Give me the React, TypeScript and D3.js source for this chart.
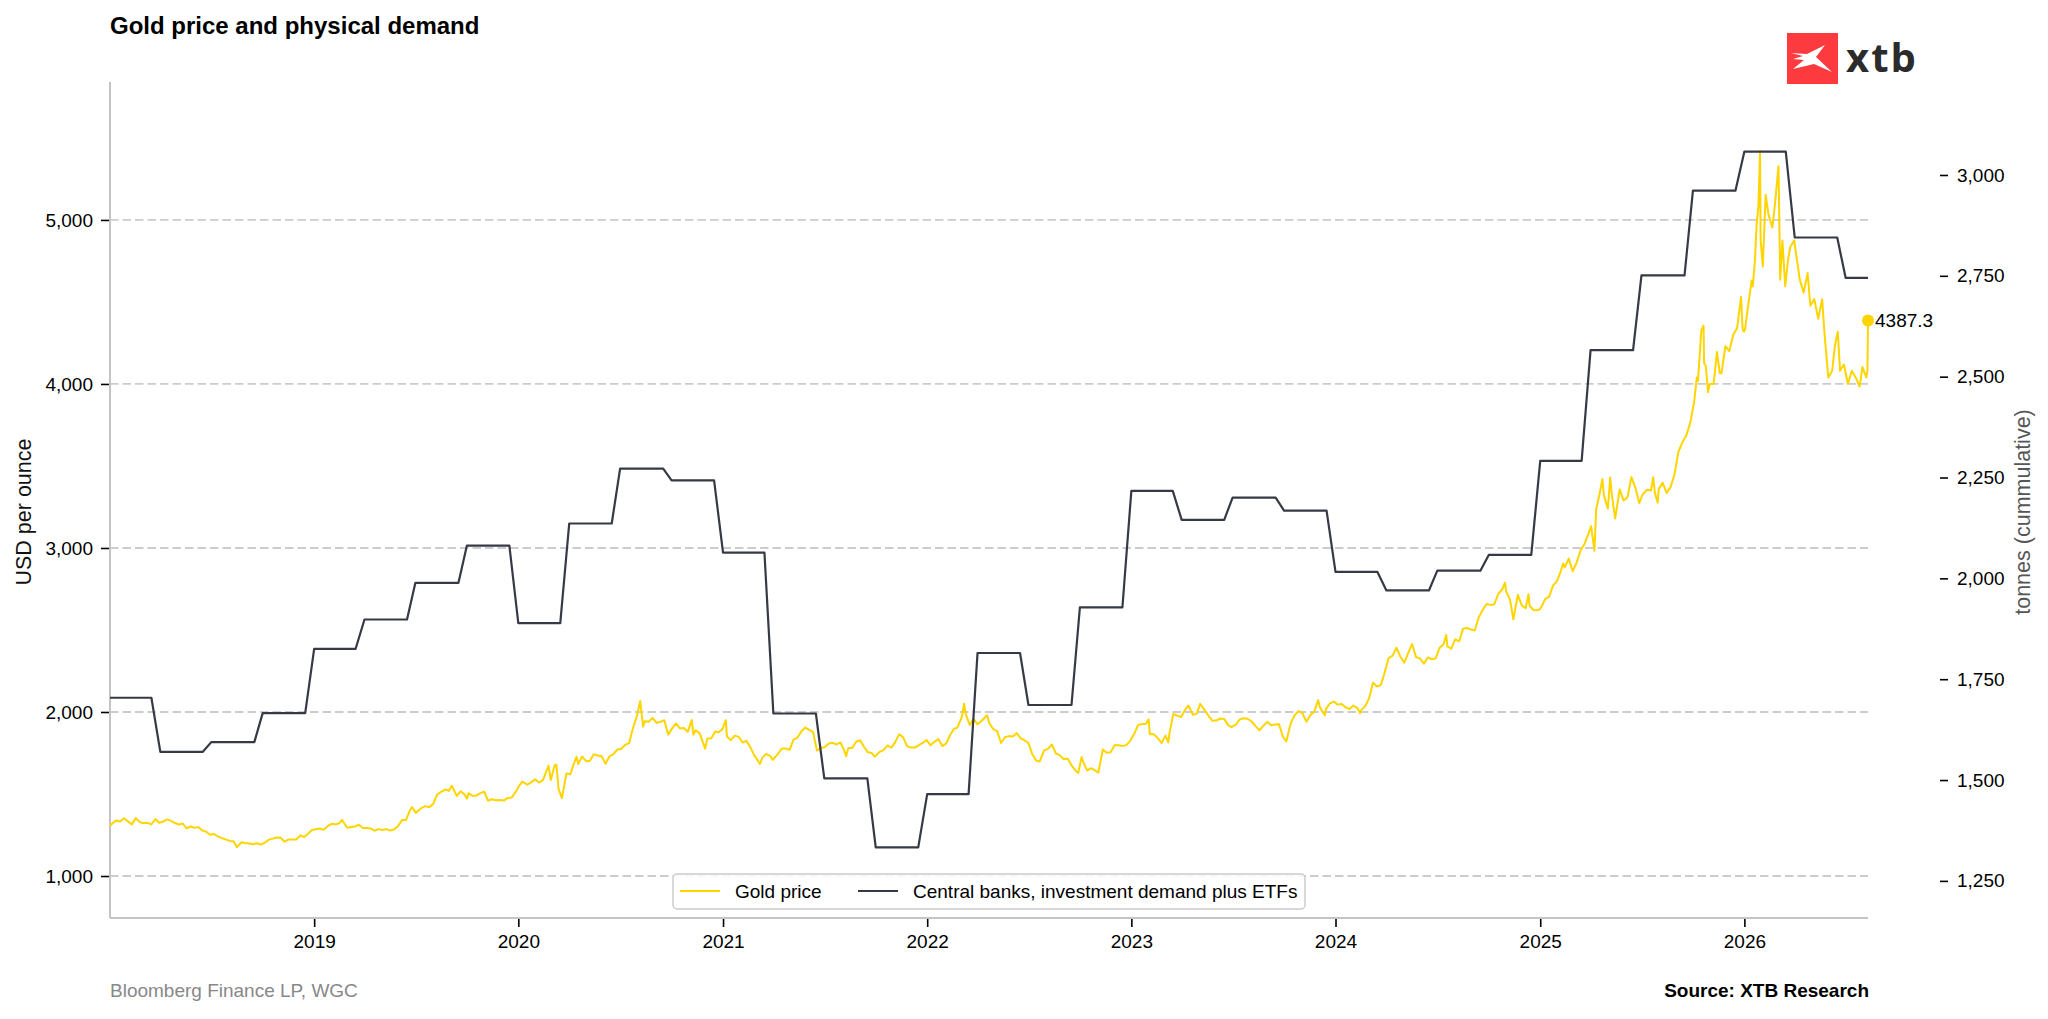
import { useEffect, useRef } from 'react';
import * as d3 from 'd3';

// gold price, USD per ounce, roughly weekly readings
const gold2018: [string, number][] = [
  ['2018-01-01', 1305], ['2018-01-05', 1320], ['2018-01-12', 1338], ['2018-01-19', 1332], ['2018-01-26', 1352],
  ['2018-02-02', 1333], ['2018-02-09', 1315], ['2018-02-16', 1353], ['2018-02-23', 1329], ['2018-03-02', 1322],
  ['2018-03-09', 1324], ['2018-03-16', 1314], ['2018-03-23', 1347], ['2018-03-30', 1325], ['2018-04-06', 1332],
  ['2018-04-13', 1345], ['2018-04-20', 1336], ['2018-04-27', 1323], ['2018-05-04', 1314], ['2018-05-11', 1320],
  ['2018-05-18', 1291], ['2018-05-25', 1302], ['2018-06-01', 1294], ['2018-06-08', 1298], ['2018-06-15', 1278],
  ['2018-06-22', 1270], ['2018-06-29', 1252], ['2018-07-06', 1256], ['2018-07-13', 1241], ['2018-07-20', 1231],
  ['2018-07-27', 1223], ['2018-08-03', 1214], ['2018-08-10', 1212], ['2018-08-16', 1176], ['2018-08-24', 1206],
  ['2018-08-31', 1201], ['2018-09-07', 1198], ['2018-09-14', 1194], ['2018-09-21', 1200], ['2018-09-28', 1192],
  ['2018-10-05', 1203], ['2018-10-12', 1222], ['2018-10-19', 1228], ['2018-10-26', 1235], ['2018-11-02', 1233],
  ['2018-11-09', 1209], ['2018-11-16', 1222], ['2018-11-23', 1223], ['2018-11-30', 1222], ['2018-12-07', 1248],
  ['2018-12-14', 1238], ['2018-12-21', 1258], ['2018-12-28', 1280],
];
const gold2019: [string, number][] = [
  ['2019-01-04', 1285], ['2019-01-11', 1289], ['2019-01-18', 1282], ['2019-01-25', 1304], ['2019-02-01', 1318],
  ['2019-02-08', 1315], ['2019-02-15', 1322], ['2019-02-20', 1342], ['2019-03-01', 1294], ['2019-03-08', 1299],
  ['2019-03-15', 1302], ['2019-03-22', 1313], ['2019-03-29', 1293], ['2019-04-05', 1292], ['2019-04-12', 1290],
  ['2019-04-19', 1276], ['2019-04-26', 1286], ['2019-05-03', 1280], ['2019-05-10', 1286], ['2019-05-17', 1277],
  ['2019-05-24', 1284], ['2019-05-31', 1305], ['2019-06-07', 1341], ['2019-06-14', 1341], ['2019-06-21', 1399],
  ['2019-06-25', 1420], ['2019-07-02', 1385], ['2019-07-12', 1415], ['2019-07-19', 1426], ['2019-07-26', 1419],
  ['2019-08-02', 1441], ['2019-08-09', 1497], ['2019-08-16', 1513], ['2019-08-23', 1527], ['2019-08-30', 1520],
  ['2019-09-04', 1550], ['2019-09-13', 1488], ['2019-09-20', 1517], ['2019-09-27', 1497], ['2019-10-01', 1472],
  ['2019-10-04', 1505], ['2019-10-11', 1489], ['2019-10-18', 1490], ['2019-10-25', 1505], ['2019-11-01', 1514],
  ['2019-11-08', 1459], ['2019-11-15', 1468], ['2019-11-22', 1462], ['2019-11-29', 1463], ['2019-12-06', 1460],
  ['2019-12-13', 1476], ['2019-12-20', 1478], ['2019-12-27', 1511],
];
const gold2020: [string, number][] = [
  ['2020-01-03', 1552], ['2020-01-08', 1575], ['2020-01-17', 1557], ['2020-01-24', 1571], ['2020-01-31', 1589],
  ['2020-02-07', 1570], ['2020-02-14', 1584], ['2020-02-24', 1672], ['2020-02-28', 1585], ['2020-03-06', 1674],
  ['2020-03-09', 1680], ['2020-03-13', 1530], ['2020-03-19', 1475], ['2020-03-27', 1625], ['2020-04-03', 1620],
  ['2020-04-09', 1683], ['2020-04-14', 1727], ['2020-04-17', 1683], ['2020-04-24', 1729], ['2020-05-01', 1700],
  ['2020-05-08', 1703], ['2020-05-15', 1743], ['2020-05-22', 1735], ['2020-05-29', 1730], ['2020-06-05', 1685],
  ['2020-06-12', 1730], ['2020-06-19', 1743], ['2020-06-26', 1771], ['2020-07-03', 1775], ['2020-07-10', 1799],
  ['2020-07-17', 1810], ['2020-07-24', 1902], ['2020-07-31', 1975], ['2020-08-06', 2067], ['2020-08-11', 1911],
  ['2020-08-14', 1944], ['2020-08-21', 1940], ['2020-08-28', 1964], ['2020-09-04', 1933], ['2020-09-11', 1940],
  ['2020-09-18', 1950], ['2020-09-25', 1862], ['2020-10-02', 1900], ['2020-10-09', 1930], ['2020-10-16', 1900],
  ['2020-10-23', 1902], ['2020-10-30', 1879], ['2020-11-06', 1951], ['2020-11-09', 1862], ['2020-11-13', 1889],
  ['2020-11-20', 1871], ['2020-11-30', 1777], ['2020-12-04', 1839], ['2020-12-11', 1840], ['2020-12-18', 1881],
  ['2020-12-24', 1877], ['2020-12-31', 1895],
];
const gold2021: [string, number][] = [
  ['2021-01-06', 1950], ['2021-01-08', 1850], ['2021-01-15', 1828], ['2021-01-22', 1856], ['2021-01-29', 1848],
  ['2021-02-05', 1814], ['2021-02-12', 1824], ['2021-02-19', 1784], ['2021-02-26', 1734], ['2021-03-05', 1700],
  ['2021-03-08', 1683], ['2021-03-12', 1720], ['2021-03-19', 1745], ['2021-03-26', 1733], ['2021-03-31', 1708],
  ['2021-04-09', 1744], ['2021-04-16', 1777], ['2021-04-23', 1777], ['2021-04-30', 1769], ['2021-05-07', 1831],
  ['2021-05-14', 1844], ['2021-05-21', 1881], ['2021-05-28', 1905], ['2021-06-04', 1891], ['2021-06-11', 1877],
  ['2021-06-18', 1764], ['2021-06-25', 1781], ['2021-07-02', 1787], ['2021-07-09', 1808], ['2021-07-16', 1812],
  ['2021-07-23', 1802], ['2021-07-30', 1814], ['2021-08-06', 1763], ['2021-08-09', 1730], ['2021-08-13', 1780],
  ['2021-08-20', 1781], ['2021-08-27', 1819], ['2021-09-03', 1827], ['2021-09-10', 1788], ['2021-09-17', 1754],
  ['2021-09-24', 1750], ['2021-09-29', 1727], ['2021-10-08', 1757], ['2021-10-15', 1768], ['2021-10-22', 1796],
  ['2021-10-29', 1783], ['2021-11-05', 1818], ['2021-11-12', 1864], ['2021-11-19', 1846], ['2021-11-26', 1792],
  ['2021-12-03', 1783], ['2021-12-10', 1783], ['2021-12-17', 1798], ['2021-12-24', 1811], ['2021-12-31', 1829],
];
const gold2022: [string, number][] = [
  ['2022-01-07', 1797], ['2022-01-14', 1818], ['2022-01-21', 1835], ['2022-01-28', 1792], ['2022-02-04', 1808],
  ['2022-02-11', 1860], ['2022-02-18', 1898], ['2022-02-24', 1905], ['2022-03-04', 1970], ['2022-03-08', 2050],
  ['2022-03-11', 1988], ['2022-03-18', 1921], ['2022-03-25', 1958], ['2022-04-01', 1925], ['2022-04-08', 1945],
  ['2022-04-18', 1980], ['2022-04-22', 1932], ['2022-04-29', 1896], ['2022-05-06', 1883], ['2022-05-13', 1811],
  ['2022-05-20', 1846], ['2022-05-27', 1853], ['2022-06-03', 1850], ['2022-06-10', 1871], ['2022-06-17', 1840],
  ['2022-06-24', 1827], ['2022-07-01', 1811], ['2022-07-08', 1742], ['2022-07-15', 1703], ['2022-07-21', 1698],
  ['2022-07-29', 1766], ['2022-08-05', 1775], ['2022-08-12', 1802], ['2022-08-19', 1747], ['2022-08-26', 1737],
  ['2022-09-02', 1712], ['2022-09-09', 1716], ['2022-09-16', 1675], ['2022-09-23', 1644], ['2022-09-28', 1628],
  ['2022-10-04', 1725], ['2022-10-07', 1695], ['2022-10-14', 1644], ['2022-10-21', 1657], ['2022-10-28', 1644],
  ['2022-11-03', 1630], ['2022-11-11', 1771], ['2022-11-18', 1751], ['2022-11-25', 1755], ['2022-12-02', 1797],
  ['2022-12-09', 1797], ['2022-12-16', 1793], ['2022-12-23', 1798], ['2022-12-30', 1824],
];
const gold2023: [string, number][] = [
  ['2023-01-06', 1866], ['2023-01-13', 1920], ['2023-01-20', 1926], ['2023-01-27', 1928], ['2023-02-01', 1955],
  ['2023-02-03', 1865], ['2023-02-10', 1865], ['2023-02-17', 1842], ['2023-02-24', 1811], ['2023-03-03', 1856],
  ['2023-03-08', 1815], ['2023-03-10', 1868], ['2023-03-17', 1988], ['2023-03-24', 1978], ['2023-03-31', 1969],
  ['2023-04-06', 2008], ['2023-04-13', 2040], ['2023-04-21', 1983], ['2023-04-28', 1990], ['2023-05-04', 2050],
  ['2023-05-12', 2011], ['2023-05-19', 1977], ['2023-05-26', 1946], ['2023-06-02', 1948], ['2023-06-09', 1961],
  ['2023-06-16', 1958], ['2023-06-23', 1920], ['2023-06-29', 1908], ['2023-07-07', 1925], ['2023-07-14', 1955],
  ['2023-07-21', 1962], ['2023-07-28', 1959], ['2023-08-04', 1942], ['2023-08-11', 1914], ['2023-08-18', 1889],
  ['2023-08-25', 1915], ['2023-09-01', 1940], ['2023-09-08', 1919], ['2023-09-15', 1924], ['2023-09-22', 1925],
  ['2023-09-29', 1849], ['2023-10-05', 1820], ['2023-10-13', 1932], ['2023-10-20', 1981], ['2023-10-27', 2006],
  ['2023-11-03', 1992], ['2023-11-10', 1940], ['2023-11-17', 1981], ['2023-11-24', 2002], ['2023-12-01', 2072],
  ['2023-12-04', 2030], ['2023-12-08', 2004], ['2023-12-13', 1980], ['2023-12-15', 2019], ['2023-12-22', 2053],
  ['2023-12-29', 2063],
];
const gold2024: [string, number][] = [
  ['2024-01-05', 2045], ['2024-01-12', 2049], ['2024-01-19', 2029], ['2024-01-26', 2018], ['2024-02-02', 2039],
  ['2024-02-09', 2024], ['2024-02-14', 1992], ['2024-02-16', 2013], ['2024-02-23', 2035], ['2024-03-01', 2083],
  ['2024-03-08', 2179], ['2024-03-15', 2155], ['2024-03-22', 2165], ['2024-03-28', 2230], ['2024-04-05', 2329],
  ['2024-04-12', 2344], ['2024-04-19', 2392], ['2024-04-26', 2337], ['2024-05-03', 2301], ['2024-05-10', 2360],
  ['2024-05-17', 2415], ['2024-05-24', 2334], ['2024-05-31', 2327], ['2024-06-07', 2294], ['2024-06-14', 2332],
  ['2024-06-21', 2322], ['2024-06-28', 2326], ['2024-07-05', 2391], ['2024-07-12', 2411], ['2024-07-17', 2469],
  ['2024-07-19', 2400], ['2024-07-26', 2386], ['2024-08-02', 2443], ['2024-08-09', 2431], ['2024-08-16', 2507],
  ['2024-08-23', 2512], ['2024-08-30', 2503], ['2024-09-06', 2497], ['2024-09-13', 2577], ['2024-09-20', 2622],
  ['2024-09-27', 2658], ['2024-10-04', 2653], ['2024-10-11', 2657], ['2024-10-18', 2721], ['2024-10-25', 2747],
  ['2024-10-30', 2788], ['2024-11-01', 2736], ['2024-11-08', 2685], ['2024-11-14', 2565], ['2024-11-22', 2715],
  ['2024-11-29', 2650], ['2024-12-06', 2633], ['2024-12-11', 2718], ['2024-12-13', 2648], ['2024-12-20', 2622],
  ['2024-12-27', 2621], ['2024-12-31', 2625],
];
const gold2025: [string, number][] = [
  ['2025-01-03', 2640], ['2025-01-10', 2690], ['2025-01-17', 2703], ['2025-01-24', 2771], ['2025-01-31', 2798],
  ['2025-02-07', 2861], ['2025-02-11', 2905], ['2025-02-14', 2882], ['2025-02-21', 2936], ['2025-02-28', 2858],
  ['2025-03-07', 2910], ['2025-03-14', 2984], ['2025-03-21', 3023], ['2025-03-28', 3084], ['2025-04-02', 3133],
  ['2025-04-08', 2983], ['2025-04-11', 3237], ['2025-04-17', 3327], ['2025-04-22', 3420], ['2025-04-25', 3319],
  ['2025-05-02', 3240], ['2025-05-06', 3430], ['2025-05-09', 3325], ['2025-05-15', 3180], ['2025-05-23', 3357],
  ['2025-05-30', 3289], ['2025-06-06', 3310], ['2025-06-13', 3432], ['2025-06-20', 3368], ['2025-06-27', 3274],
  ['2025-07-03', 3326], ['2025-07-11', 3355], ['2025-07-18', 3350], ['2025-07-22', 3431], ['2025-07-25', 3336],
  ['2025-07-30', 3276], ['2025-08-01', 3362], ['2025-08-08', 3397], ['2025-08-15', 3336], ['2025-08-22', 3371],
  ['2025-08-29', 3447], ['2025-09-05', 3586], ['2025-09-12', 3643], ['2025-09-19', 3685], ['2025-09-26', 3760],
  ['2025-10-03', 3886], ['2025-10-08', 4040], ['2025-10-10', 4018], ['2025-10-16', 4326], ['2025-10-20', 4356],
  ['2025-10-21', 4125], ['2025-10-24', 4112], ['2025-10-28', 3950], ['2025-10-31', 4000], ['2025-11-07', 4000],
  ['2025-11-13', 4195], ['2025-11-18', 4066], ['2025-11-21', 4065], ['2025-11-28', 4230], ['2025-12-05', 4200],
  ['2025-12-12', 4300], ['2025-12-19', 4340], ['2025-12-26', 4530], ['2025-12-29', 4330], ['2025-12-31', 4320],
];
const gold2026: [string, number][] = [
  ['2026-01-02', 4330], ['2026-01-09', 4510], ['2026-01-14', 4630], ['2026-01-16', 4595], ['2026-01-20', 4760],
  ['2026-01-23', 4980], ['2026-01-26', 5080], ['2026-01-28', 5300], ['2026-01-29', 5420], ['2026-01-30', 4880],
  ['2026-02-03', 4716], ['2026-02-08', 5153], ['2026-02-13', 5034], ['2026-02-20', 4954], ['2026-02-24', 5073],
  ['2026-03-03', 5328], ['2026-03-06', 4636], ['2026-03-10', 4875], ['2026-03-15', 4596], ['2026-03-20', 4755],
  ['2026-03-24', 4835], ['2026-03-31', 4875], ['2026-04-05', 4755], ['2026-04-10', 4636], ['2026-04-17', 4557],
  ['2026-04-24', 4676], ['2026-04-29', 4477], ['2026-05-06', 4517], ['2026-05-13', 4397], ['2026-05-20', 4517],
  ['2026-05-24', 4318], ['2026-05-31', 4040], ['2026-06-07', 4080], ['2026-06-12', 4238], ['2026-06-17', 4318],
  ['2026-06-21', 4080], ['2026-06-28', 4119], ['2026-07-05', 4000], ['2026-07-12', 4080], ['2026-07-19', 4040],
  ['2026-07-26', 3984], ['2026-07-31', 4103], ['2026-08-07', 4040], ['2026-08-09', 4080], ['2026-08-10', 4387.3],
];

// central banks, investment demand plus ETFs, tonnes, one value per quarter from 2018 Q1
const demandQuarterly = [
  1704, 1570, 1594, 1666,
  1825, 1898, 1989, 2081,
  1889, 2136, 2272, 2243,
  2064, 1665, 1504, 1333,
  1465, 1815, 1686, 1928,
  2217, 2145, 2200, 2168,
  2016, 1970, 2019, 2058,
  2291, 2566, 2751, 2961,
  3058, 2845, 2745,
];

const leftTicks = [1000, 2000, 3000, 4000, 5000];
const rightTicks = [1250, 1500, 1750, 2000, 2250, 2500, 2750, 3000];
const yearTicks = [2019, 2020, 2021, 2022, 2023, 2024, 2025, 2026];

const GOLD = '#ffd500';
const DARK = '#353a45';
const FONT = '"Liberation Sans", Arial, Helvetica, sans-serif';

const App = () => {
  const svgRef = useRef<SVGSVGElement>(null);

  useEffect(() => {
    if (!svgRef.current) return;
    const svg = d3.select(svgRef.current);
    svg.selectAll('*').remove();

    const left = 110, right = 1868, top = 82, bottom = 918;
    const parse = d3.utcParse('%Y-%m-%d');
    const start = parse('2018-01-01')!;
    const end = parse('2026-08-10')!;

    const x = d3.scaleUtc().domain([start, end]).range([left, right]);
    const yL = d3.scaleLinear().domain([744, 5841]).range([bottom, top]);
    const yR = d3.scaleLinear().domain([1158, 3230.5]).range([bottom, top]);

    const gold = [...gold2018, ...gold2019, ...gold2020, ...gold2021, ...gold2022,
      ...gold2023, ...gold2024, ...gold2025, ...gold2026].map(([d, v]) => ({ date: parse(d)!, v }));

    // quarterly values held over semi-monthly observations
    const demand: { date: Date; v: number }[] = [];
    demandQuarterly.forEach((v, q) => {
      const yr = 2018 + Math.floor(q / 4);
      const m0 = (q % 4) * 3;
      for (let m = m0; m < m0 + 3; m++) {
        for (const day of [1, 16]) {
          const dt = new Date(Date.UTC(yr, m, day));
          if (dt <= end) demand.push({ date: dt, v });
        }
      }
    });
    demand.push({ date: end, v: demandQuarterly[demandQuarterly.length - 1] });

    svg.append('rect').attr('width', 2048).attr('height', 1019).attr('fill', '#fff');

    // title
    svg.append('text').attr('x', 110).attr('y', 34)
      .attr('font-family', FONT).attr('font-size', 24).attr('font-weight', 'bold').attr('fill', '#000')
      .text('Gold price and physical demand');

    // gridlines
    svg.append('g').selectAll('line').data(leftTicks).enter().append('line')
      .attr('x1', left).attr('x2', right)
      .attr('y1', d => yL(d)).attr('y2', d => yL(d))
      .attr('stroke', '#cccccc').attr('stroke-width', 1.8).attr('stroke-dasharray', '8.5,4');

    // left axis
    const gl = svg.append('g').attr('transform', `translate(${left - 1},0)`)
      .call(d3.axisLeft(yL).tickValues(leftTicks).tickSize(8).tickPadding(8).tickFormat(d3.format(',')));
    // right axis (offset outward, no spine)
    const gr = svg.append('g').attr('transform', `translate(1940,0)`)
      .call(d3.axisRight(yR).tickValues(rightTicks).tickSize(8).tickPadding(9).tickFormat(d3.format(',')));
    // bottom axis
    const gb = svg.append('g').attr('transform', `translate(0,${bottom + 1})`)
      .call(d3.axisBottom(x).tickValues(yearTicks.map(y => new Date(Date.UTC(y, 0, 1))))
        .tickSize(8).tickPadding(8).tickFormat(d3.utcFormat('%Y') as any));
    [gl, gr, gb].forEach(g => {
      g.select('.domain').remove();
      g.selectAll('.tick line').attr('stroke', '#000').attr('stroke-width', 1.6);
      g.selectAll('.tick text').attr('font-family', FONT).attr('font-size', 19).attr('fill', '#000');
    });

    // spines
    svg.append('line').attr('x1', left).attr('x2', left).attr('y1', top).attr('y2', bottom)
      .attr('stroke', '#c4c4c4').attr('stroke-width', 2);
    svg.append('line').attr('x1', left).attr('x2', right).attr('y1', bottom).attr('y2', bottom)
      .attr('stroke', '#c4c4c4').attr('stroke-width', 2);

    // axis titles
    svg.append('text').attr('transform', `translate(31,512) rotate(-90)`)
      .attr('text-anchor', 'middle').attr('font-family', FONT).attr('font-size', 21.5).attr('fill', '#111')
      .text('USD per ounce');
    svg.append('text').attr('transform', `translate(2030,512) rotate(-90)`)
      .attr('text-anchor', 'middle').attr('font-family', FONT).attr('font-size', 21.5).attr('fill', '#555')
      .text('tonnes (cummulative)');

    // gold line
    const goldLine = d3.line<{ date: Date; v: number }>().x(d => x(d.date)).y(d => yL(d.v));
    svg.append('path').datum(gold).attr('d', goldLine)
      .attr('fill', 'none').attr('stroke', GOLD).attr('stroke-width', 2).attr('stroke-linejoin', 'round');

    const last = gold[gold.length - 1];
    svg.append('circle').attr('cx', x(last.date)).attr('cy', yL(last.v)).attr('r', 6).attr('fill', GOLD);
    svg.append('text').attr('x', x(last.date) + 7).attr('y', yL(last.v) + 6.5)
      .attr('font-family', FONT).attr('font-size', 19).attr('fill', '#000')
      .text(last.v.toFixed(1));

    // demand line
    const demandLine = d3.line<{ date: Date; v: number }>().x(d => x(d.date)).y(d => yR(d.v));
    svg.append('path').datum(demand).attr('d', demandLine)
      .attr('fill', 'none').attr('stroke', DARK).attr('stroke-width', 2.2).attr('stroke-linejoin', 'round');

    // legend
    const lg = svg.append('g');
    lg.append('rect').attr('x', 673).attr('y', 874).attr('width', 632).attr('height', 35).attr('rx', 4)
      .attr('fill', '#fff').attr('fill-opacity', 0.85).attr('stroke', '#cccccc').attr('stroke-width', 1.5);
    const items = [
      { label: 'Gold price', color: GOLD, x0: 680 },
      { label: 'Central banks, investment demand plus ETFs', color: DARK, x0: 858 },
    ];
    items.forEach(it => {
      lg.append('line').attr('x1', it.x0).attr('x2', it.x0 + 40).attr('y1', 891).attr('y2', 891)
        .attr('stroke', it.color).attr('stroke-width', 2);
      lg.append('text').attr('x', it.x0 + 55).attr('y', 897.5)
        .attr('font-family', FONT).attr('font-size', 19).attr('fill', '#000').text(it.label);
    });

    // footer
    svg.append('text').attr('x', 110).attr('y', 997)
      .attr('font-family', FONT).attr('font-size', 19).attr('fill', '#888').text('Bloomberg Finance LP, WGC');
    svg.append('text').attr('x', 1869).attr('y', 997).attr('text-anchor', 'end')
      .attr('font-family', FONT).attr('font-size', 19).attr('font-weight', 'bold').attr('fill', '#000')
      .text('Source: XTB Research');

    // logo
    const logo = svg.append('g').attr('transform', 'translate(1787,33)');
    logo.append('rect').attr('width', 51).attr('height', 51).attr('fill', '#fd3a3e');
    logo.append('path')
      .attr('d', 'M4 20 L20 21 L38 12 L29 24 L45 39 L27 31 L6 36 L17 27 L6 26 L16 23 Z')
      .attr('fill', '#fff');
    svg.append('text').attr('x', 1846).attr('y', 72)
      .attr('font-family', '"Open Sans", Lato, sans-serif').attr('font-size', 40).attr('font-weight', 700)
      .attr('letter-spacing', 2).attr('fill', '#2b2b2b').text('xtb');
  }, []);

  return (
    <div style={{ position: 'absolute', left: 0, top: 0 }}>
      <svg ref={svgRef} width={2048} height={1019} viewBox="0 0 2048 1019" style={{ display: 'block' }} />
    </div>
  );
};

export default App;
